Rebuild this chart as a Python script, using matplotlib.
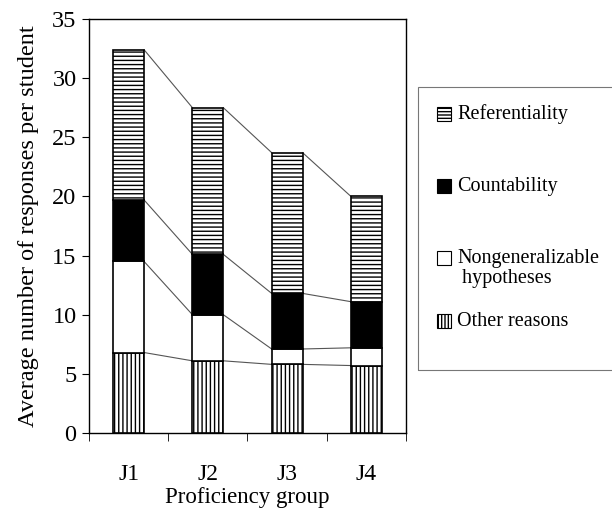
import numpy as np
import matplotlib
matplotlib.use('Agg')
import matplotlib.pyplot as plt
from matplotlib.patches import Rectangle

plt.rcParams['font.family'] = ['Liberation Serif', 'DejaVu Serif']
plt.rcParams['hatch.linewidth'] = 1.0

groups = ["J1", "J2", "J3", "J4"]
# stacked from bottom to top
other_reasons = [6.8, 6.1, 5.8, 5.7]
nongeneralizable = [7.7, 3.9, 1.3, 1.5]
countability = [5.2, 5.1, 4.7, 3.9]
referentiality = [12.7, 12.4, 11.9, 8.9]

series = [
    ("Other reasons", other_reasons, "white", "||||"),
    ("Nongeneralizable\n hypotheses", nongeneralizable, "white", None),
    ("Countability", countability, "black", None),
    ("Referentiality", referentiality, "white", "----"),
]

W, H = 612, 513
fig = plt.figure(figsize=(W / 100, H / 100), dpi=100)
ax = fig.add_axes([0.1454, 0.156, 0.518, 0.807])

x = np.arange(len(groups))
w = 0.39
bottom = np.zeros(len(groups))
for name, vals, color, hatch in series:
    vals = np.array(vals)
    ax.bar(x, vals, w, bottom=bottom, color=color, edgecolor="black",
           hatch=hatch, linewidth=1.2, zorder=3)
    bottom = bottom + vals
    # series lines joining the stacks
    for i in range(len(groups) - 1):
        ax.plot([x[i] + w / 2, x[i + 1] - w / 2], [bottom[i], bottom[i + 1]],
                color="#555555", lw=0.8, zorder=2)

ax.set_xlim(-0.5, 3.5)
ax.set_ylim(0, 35)
ax.set_yticks(range(0, 36, 5))
ax.set_xticks(x)
ax.set_xticklabels(groups)
ax.set_xticks(np.arange(-0.5, 3.6, 1), minor=True)
ax.tick_params(axis="x", which="major", length=0, pad=22, labelsize=17)
ax.tick_params(axis="x", which="minor", length=6, direction="out")
ax.tick_params(axis="y", length=5, direction="out", labelsize=17.5, pad=4)
ax.set_xlabel("Proficiency group", fontsize=16.5, labelpad=2)
ax.set_ylabel("Average number of responses per student", fontsize=17.5, labelpad=9)
for s in ax.spines.values():
    s.set_linewidth(1.0)

# legend drawn by hand (uneven spacing as in the original), pixel positions
def fx(px):
    return px / W

def fy(py):
    return 1 - py / H

fig.patches.append(Rectangle((fx(418), fy(370)), fx(700 - 418), fy(87) - fy(370),
                             transform=fig.transFigure, facecolor="none",
                             edgecolor="#777777", linewidth=0.8))
legend_items = [
    ("Referentiality", "white", "-----", 114),
    ("Countability", "black", None, 186),
    ("Nongeneralizable\n hypotheses", "white", None, 258),
    ("Other reasons", "white", "|||||", 321),
]
for label, color, hatch, yc in legend_items:
    fig.patches.append(Rectangle((fx(437), fy(yc + 7)), fx(14), fy(yc - 7) - fy(yc + 7),
                                 transform=fig.transFigure, facecolor=color,
                                 edgecolor="black", hatch=hatch, linewidth=0.8))
    # two-line label hangs from its first line
    ytext = yc - 9 if "\n" in label else yc
    fig.text(fx(457), fy(ytext), label, fontsize=14.5, ha="left",
             va="top" if "\n" in label else "center", linespacing=1.05)

fig.savefig("out.png", dpi=100)
